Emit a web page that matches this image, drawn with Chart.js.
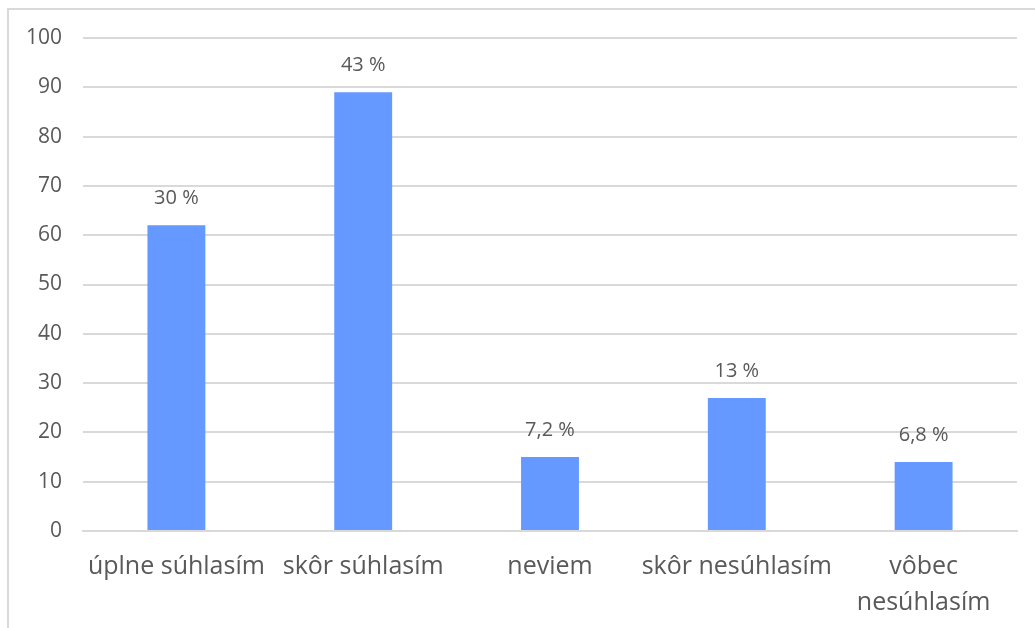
<!DOCTYPE html>
<html>
<head>
<meta charset="utf-8">
<script src="https://cdn.jsdelivr.net/npm/chart.js@4/dist/chart.umd.min.js"></script>
<style>
    html, body { margin: 0; padding: 0; background: #fff; }
    #wrap { width: 1035px; height: 628px; position: relative; }
</style>
</head>
<body>
<div id="wrap"><canvas id="chart"></canvas></div>
<script>
const categories = ['úplne súhlasím', 'skôr súhlasím', 'neviem', 'skôr nesúhlasím', ['vôbec', 'nesúhlasím']];
const values = [62, 89, 15, 27, 14];
const percentLabels = ['30 %', '43 %', '7,2 %', '13 %', '6,8 %'];
const yTicks = [0, 10, 20, 30, 40, 50, 60, 70, 80, 90, 100];

const textColor = '#595959';
const gridColor = '#d9d9d9';
const fontFamily = '"Open Sans", sans-serif';

// outer frame like the office chart border
const framePlugin = {
    id: 'frame',
    beforeDraw(chart) {
        const c = chart.ctx;
        c.save();
        c.strokeStyle = '#d9d9d9';
        c.lineWidth = 2;
        c.strokeRect(8, 9, 1100, 700);
        c.restore();
    },
};

const valueLabels = {
    id: 'valueLabels',
    afterDatasetsDraw(chart) {
        const c = chart.ctx;
        const meta = chart.getDatasetMeta(0);
        c.save();
        c.fillStyle = textColor;
        c.font = '20px ' + fontFamily;
        c.textAlign = 'center';
        c.textBaseline = 'middle';
        meta.data.forEach((bar, i) => {
            c.fillText(percentLabels[i], bar.x, bar.y - 27);
        });
        c.restore();
    },
};

new Chart(document.getElementById('chart'), {
    type: 'bar',
    data: {
        labels: categories,
        datasets: [{
            data: values,
            backgroundColor: '#6699ff',
            borderWidth: 0,
            barPercentage: 0.31,
            categoryPercentage: 1,
        }],
    },
    options: {
        responsive: true,
        maintainAspectRatio: false,
        animation: false,
        layout: { padding: { left: 8, top: 38, right: 18, bottom: 0 } },
        plugins: {
            legend: { display: false },
            tooltip: { enabled: false },
        },
        scales: {
            y: {
                min: 0,
                max: 100,
                afterFit: s => { s.width = 75; },
                afterBuildTicks: s => { s.ticks = yTicks.map(v => ({ value: v })); },
                ticks: {
                    color: textColor,
                    font: { size: 21, family: fontFamily },
                    padding: 21,
                },
                grid: { color: gridColor, lineWidth: 2, drawTicks: false },
                border: { display: false },
            },
            x: {
                afterFit: s => { s.height = 97; },
                ticks: {
                    color: textColor,
                    font: { size: 25, family: fontFamily, lineHeight: 1.44 },
                    padding: 18,
                    maxRotation: 0,
                    autoSkip: false,
                },
                grid: { display: false, drawTicks: false },
                border: { color: gridColor, width: 2 },
            },
        },
    },
    plugins: [framePlugin, valueLabels],
});
</script>
</body>
</html>
